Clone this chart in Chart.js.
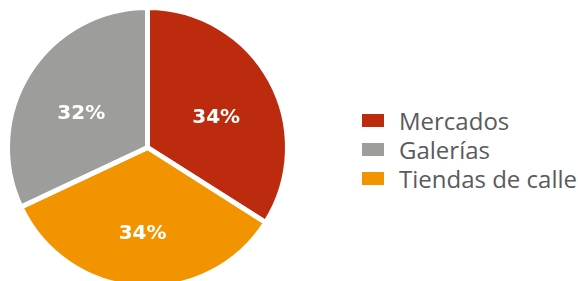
<!DOCTYPE html>
<html>
<head>
<meta charset="utf-8">
<script src="https://cdn.jsdelivr.net/npm/chart.js@4"></script>
<style>
    html, body { margin: 0; padding: 0; background: #fff; overflow: hidden; width: 578px; height: 281px; }
    #pieBox { position: absolute; left: 0; top: 0; width: 295px; height: 295px; }
    #legend { position: absolute; left: 362px; top: 106px; margin: 0; padding: 0; list-style: none;
        font-family: "Open Sans", "Liberation Sans", sans-serif; font-weight: 400; font-size: 24px; color: #5a5b5d; }
    #legend li { height: 29px; line-height: 29px; display: flex; align-items: center; white-space: nowrap; }
    #legend span.box { display: inline-block; width: 22px; height: 13px; margin-right: 15px; }
</style>
</head>
<body>
<div id="pieBox"><canvas id="marketShareGraph"></canvas></div>
<ul id="legend"></ul>

<script>
// pie order, clockwise from the top
const categories = ['Mercados', 'Tiendas de calle', 'Galerías'];
const shares = [34, 34, 32];
const sliceColors = ['#bd2b0e', '#f29400', '#9d9d9c'];
// legend order as printed
const legendOrder = ['Mercados', 'Galerías', 'Tiendas de calle'];

// percent labels on the slices
const sliceLabels = {
    id: 'sliceLabels',
    afterDatasetsDraw(chart) {
        const ctx = chart.ctx;
        const meta = chart.getDatasetMeta(0);
        ctx.save();
        ctx.fillStyle = '#ffffff';
        ctx.font = 'bold 20px "DejaVu Sans", sans-serif';
        ctx.textAlign = 'center';
        ctx.textBaseline = 'middle';
        meta.data.forEach(function (arc, i) {
            const p = arc.getProps(['x', 'y', 'startAngle', 'endAngle', 'outerRadius'], true);
            const mid = (p.startAngle + p.endAngle) / 2;
            const r = p.outerRadius * 0.56;
            // labels sit a little below the slice centre line
            ctx.fillText(shares[i] + '%', p.x + Math.cos(mid) * r, p.y + Math.sin(mid) * r + 8);
        });
        ctx.restore();
    }
};

function drawShareGraph() {
    const marketShareGraph = document.getElementById('marketShareGraph');

    new Chart(marketShareGraph, {
        type: 'pie',
        data: {
            labels: categories,
            datasets: [
                {
                    data: shares,
                    backgroundColor: sliceColors,
                    borderColor: '#ffffff',
                    borderWidth: 5
                }
            ]
        },
        options: {
            responsive: true,
            maintainAspectRatio: false,
            animation: false,
            layout: { padding: 5 },
            plugins: {
                legend: { display: false },
                tooltip: { enabled: false }
            }
        },
        plugins: [sliceLabels]
    });

    const legend = document.getElementById('legend');
    legendOrder.forEach(function (name) {
        const li = document.createElement('li');
        const box = document.createElement('span');
        box.className = 'box';
        box.style.background = sliceColors[categories.indexOf(name)];
        li.appendChild(box);
        li.appendChild(document.createTextNode(name));
        legend.appendChild(li);
    });
}

drawShareGraph();
</script>
</body>
</html>
